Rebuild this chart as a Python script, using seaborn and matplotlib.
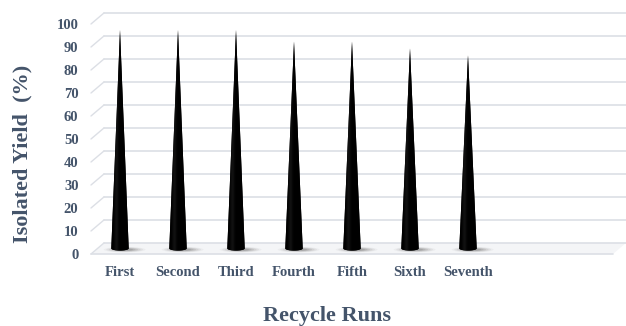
import numpy as np
import matplotlib
matplotlib.use("Agg")
import matplotlib.pyplot as plt
import seaborn as sns
from matplotlib.patches import Polygon, Ellipse

# Recycling data
runs = ["First", "Second", "Third", "Fourth", "Fifth", "Sixth", "Seventh"]
yields = [95, 95, 95, 90, 90, 87, 84]
y_ticks = list(range(0, 101, 10))

TEXT = "#44546A"
GRID = "#DCDFE5"

sns.set_style("white")
plt.rcParams["font.family"] = ["Liberation Serif", "DejaVu Serif"]
plt.rcParams["font.weight"] = "bold"

fig = plt.figure(figsize=(6.26, 3.26), dpi=100)
ax = fig.add_axes([91 / 626, 72 / 326, 522 / 626, 230 / 326])

sns.barplot(x=runs, y=yields, ax=ax, color="black", width=0.3)
ax.set_xlim(-0.5, 8.5)
ax.set_ylim(0, 100)

# depth of the 3-D box in data units (back wall offset)
dx, dy = 0.224, 4.8

# floor
floor = Polygon([(-0.5, 0), (8.5, 0), (8.5 + dx, dy), (-0.5 + dx, dy)],
                closed=True, facecolor="#F4F5F7", edgecolor="none",
                zorder=0, clip_on=False)
ax.add_patch(floor)
ax.plot([-0.5, 8.5], [0, 0], color=GRID, lw=1.2, zorder=1, clip_on=False)

# back wall gridlines and side wall diagonals
for v in y_ticks:
    ax.plot([-0.5 + dx, 8.5 + dx], [v + dy, v + dy], color=GRID, lw=1.2,
            zorder=0.5, clip_on=False)
    ax.plot([-0.5, -0.5 + dx], [v, v + dy], color=GRID, lw=1.0,
            zorder=0.5, clip_on=False)

# cones drawn from the bar geometry
half_depth = dy / 2
for p in list(ax.patches):
    if p is floor:
        continue
    xc = p.get_x() + p.get_width() / 2
    h = p.get_height()
    p.set_visible(False)
    w = 0.15
    base = half_depth
    # soft shadow on the floor, spreading to the right
    for k, a in zip(np.linspace(1.0, 0.4, 6), np.linspace(0.05, 0.15, 6)):
        ax.add_patch(Ellipse((xc + 0.08, base - 0.5), 0.72 * k, 2.4 * k,
                             facecolor="#505050", edgecolor="none",
                             alpha=a, zorder=2, clip_on=False))
    t = np.linspace(np.pi, 2 * np.pi, 30)
    arc = [(xc + w * np.cos(a), base + 0.9 * np.sin(a)) for a in t]
    pts = [(xc, base + h)] + [(xc - w, base)] + arc + [(xc + w, base)]
    cone = Polygon(pts, closed=True, facecolor="black", edgecolor="none",
                   zorder=3, clip_on=False)
    ax.add_patch(cone)
    # faint sheen on the cone surface
    grad = np.linspace(0, 1, 64)
    shade = 0.07 * np.exp(-((grad - 0.3) / 0.12) ** 2)
    img = np.tile(shade, (2, 1))
    im = ax.imshow(img, cmap="gray", vmin=0, vmax=1, aspect="auto",
                   extent=(xc - w, xc + w, base - 1, base + h),
                   zorder=3.5, interpolation="bilinear")
    im.set_clip_path(cone)

ax.set_yticks(y_ticks)
ax.set_xticks(range(len(runs)))
ax.set_xticklabels(runs)
ax.tick_params(axis="both", length=0, labelsize=10.5, colors=TEXT)
ax.tick_params(axis="y", pad=9)
ax.tick_params(axis="x", pad=9)
for lab in ax.get_xticklabels() + ax.get_yticklabels():
    lab.set_fontweight("bold")
for s in ax.spines.values():
    s.set_visible(False)
ax.grid(False)
ax.set_facecolor("none")

ax.set_xlabel("Recycle Runs", fontsize=16, fontweight="bold", color=TEXT)
ax.xaxis.set_label_coords(0.453, -0.27)
ax.xaxis.label.set_va("center")
ax.set_ylabel("Isolated Yield  (%)", fontsize=16, fontweight="bold", color=TEXT)
ax.yaxis.set_label_coords(-0.132, 0.435)
ax.yaxis.label.set_va("center")

fig.savefig("out.png", dpi=100, facecolor="white")
